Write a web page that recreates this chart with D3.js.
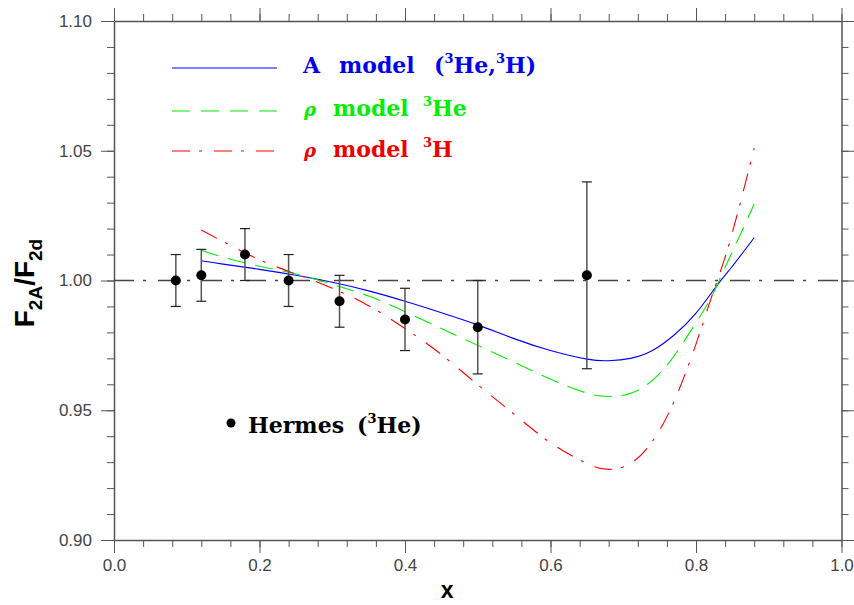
<!DOCTYPE html>
<html>
<head>
<meta charset="utf-8">
<script src="https://cdn.jsdelivr.net/npm/d3@7"></script>
<style>
body { margin: 0; background: #fff; }
text { white-space: pre; }
</style>
</head>
<body>
<svg id="mysvg" width="854" height="605"></svg>
<script>

// Hermes points (3He)
var hermesX = [0.085, 0.12, 0.18, 0.24, 0.31, 0.40, 0.50, 0.65];
var hermesY = [1.000, 1.002, 1.010, 1.000, 0.992, 0.985, 0.982, 1.002];
var hermesErr = [0.010, 0.010, 0.010, 0.010, 0.010, 0.012, 0.018, 0.036];

// A model (3He,3H)
var aX = [0.12, 0.15, 0.20, 0.25, 0.30, 0.35, 0.40, 0.45, 0.50, 0.55, 0.60, 0.65, 0.68, 0.71, 0.74, 0.77, 0.80, 0.83, 0.85, 0.88];
var aY = [1.0076, 1.0063, 1.0043, 1.0020, 0.9993, 0.9960, 0.9920, 0.9876, 0.9829, 0.9776, 0.9730, 0.9697, 0.9691, 0.9700, 0.9730, 0.9790, 0.9874, 0.9985, 1.0055, 1.0165];

// rho model 3He
var rhoHeX = [0.12, 0.15, 0.20, 0.25, 0.30, 0.35, 0.40, 0.45, 0.50, 0.55, 0.60, 0.65, 0.68, 0.71, 0.74, 0.77, 0.80, 0.82, 0.84, 0.86, 0.88];
var rhoHeY = [1.0117, 1.0090, 1.0055, 1.0025, 0.9985, 0.9940, 0.9880, 0.9815, 0.9750, 0.9685, 0.9620, 0.9566, 0.9553, 0.9565, 0.9615, 0.9710, 0.9838, 0.9930, 1.0050, 1.0172, 1.0295];

// rho model 3H
var rhoHX = [0.12, 0.15, 0.20, 0.25, 0.30, 0.35, 0.40, 0.45, 0.50, 0.55, 0.60, 0.65, 0.68, 0.71, 0.74, 0.77, 0.80, 0.82, 0.84, 0.86, 0.88];
var rhoHY = [1.0195, 1.0150, 1.0080, 1.0025, 0.9970, 0.9903, 0.9815, 0.9715, 0.9598, 0.9485, 0.9375, 0.9295, 0.9272, 0.9295, 0.9380, 0.9535, 0.9755, 0.9925, 1.0090, 1.0290, 1.0510];

var xMajor = [0.0, 0.2, 0.4, 0.6, 0.8, 1.0];
var yMajor = [0.90, 0.95, 1.00, 1.05, 1.10];

var svg = d3.select("#mysvg");

var padL = 114, padR = 841.5, padT = 21, padB = 540;

var x = d3.scaleLinear().domain([0, 1]).range([padL, padR]);
var y = d3.scaleLinear().domain([0.90, 1.10]).range([padB, padT]);

var xMinor = d3.range(0, 1.0001, 0.04);
var yMinor = d3.range(0.90, 1.1001, 0.01);

var axisCol = "#555";

// minor ticks on all four sides
function minorAxis (axis, vals, tr) {
	var g = svg.append("g").attr("transform", tr)
		.call(axis.tickValues(vals).tickSize(7).tickFormat(""));
	g.select(".domain").remove();
	g.selectAll("line").attr("stroke", axisCol);
	return g;
}
minorAxis(d3.axisBottom(x), xMinor, "translate(0," + padB + ")");
minorAxis(d3.axisTop(x), xMinor, "translate(0," + padT + ")");
minorAxis(d3.axisLeft(y), yMinor, "translate(" + padL + ",0)");
minorAxis(d3.axisRight(y), yMinor, "translate(" + padR + ",0)");

// major ticks
var gxb = svg.append("g").attr("transform", "translate(0," + padB + ")")
	.call(d3.axisBottom(x).tickValues(xMajor).tickSize(13).tickSizeOuter(0).tickPadding(6).tickFormat(d3.format(".1f")));
var gxt = svg.append("g").attr("transform", "translate(0," + padT + ")")
	.call(d3.axisTop(x).tickValues(xMajor).tickSize(13).tickSizeOuter(0).tickFormat(""));
var gyl = svg.append("g").attr("transform", "translate(" + padL + ",0)")
	.call(d3.axisLeft(y).tickValues(yMajor).tickSize(13).tickSizeOuter(0).tickPadding(9).tickFormat(d3.format(".2f")));
var gyr = svg.append("g").attr("transform", "translate(" + padR + ",0)")
	.call(d3.axisRight(y).tickValues(yMajor).tickSize(13).tickSizeOuter(0).tickFormat(""));

[gxb, gxt, gyl, gyr].forEach(function (g) {
	g.select(".domain").attr("stroke", axisCol).attr("stroke-width", 1.5);
	g.selectAll("line").attr("stroke", axisCol);
	g.selectAll("text")
		.attr("font-family", "Liberation Sans, Arial, sans-serif")
		.attr("font-size", 17)
		.attr("fill", "#444");
});

// reference line at 1
svg.append("line")
	.attr("x1", x(0)).attr("x2", x(1))
	.attr("y1", y(1)).attr("y2", y(1))
	.attr("stroke", "#444")
	.attr("stroke-width", 1.3)
	.attr("stroke-dasharray", "20,9,3,12");

// model curves
var line = d3.line().x(function (d) { return x(d[0]); }).y(function (d) { return y(d[1]); })
	.curve(d3.curveNatural);

var curves = [
	{ xs: aX, ys: aY, col: "#0000ff", dash: null },
	{ xs: rhoHeX, ys: rhoHeY, col: "#00ee00", dash: "18,10" },
	{ xs: rhoHX, ys: rhoHY, col: "#ff0000", dash: "18,9,3,12" }
];

curves.forEach(function (c) {
	var pts = c.xs.map(function (v, i) { return [v, c.ys[i]]; });
	svg.append("path")
		.datum(pts)
		.attr("d", line)
		.attr("fill", "none")
		.attr("stroke", c.col)
		.attr("stroke-width", 1.1)
		.attr("stroke-dasharray", c.dash);
});

// error bars + points
var eb = svg.append("g");
hermesX.forEach(function (v, i) {
	var px = x(v);
	var lo = y(hermesY[i] - hermesErr[i]);
	var hi = y(hermesY[i] + hermesErr[i]);
	eb.append("line").attr("x1", px).attr("x2", px).attr("y1", lo).attr("y2", hi)
		.attr("stroke", "#555").attr("stroke-width", 1.5);
	eb.append("line").attr("x1", px - 5).attr("x2", px + 5).attr("y1", lo).attr("y2", lo)
		.attr("stroke", "#222").attr("stroke-width", 1.2);
	eb.append("line").attr("x1", px - 5).attr("x2", px + 5).attr("y1", hi).attr("y2", hi)
		.attr("stroke", "#222").attr("stroke-width", 1.2);
	eb.append("circle").attr("cx", px).attr("cy", y(hermesY[i])).attr("r", 5).attr("fill", "#000");
});

// legend
var serif = "DejaVu Serif, serif";

function legText (xp, yp, col, parts) {
	var t = svg.append("text")
		.attr("x", xp).attr("y", yp)
		.attr("font-family", serif)
		.attr("font-weight", "bold")
		.attr("font-size", 22)
		.attr("fill", col);
	parts.forEach(function (p) {
		var s = t.append("tspan").text(p.t);
		if (p.sup) s.attr("font-size", 13).attr("baseline-shift", "75%");
		if (p.it) s.attr("font-style", "italic").attr("font-size", 18);
		if (p.x) s.attr("x", p.x);
	});
	return t;
}

svg.append("line").attr("x1", 172).attr("x2", 277).attr("y1", 68).attr("y2", 68)
	.attr("stroke", "#0000ff").attr("stroke-width", 1.1);
svg.append("line").attr("x1", 172).attr("x2", 277).attr("y1", 111).attr("y2", 111)
	.attr("stroke", "#00ee00").attr("stroke-width", 1.1).attr("stroke-dasharray", "18,11");
svg.append("line").attr("x1", 172).attr("x2", 277).attr("y1", 151).attr("y2", 151)
	.attr("stroke", "#ff0000").attr("stroke-width", 1.1).attr("stroke-dasharray", "18,9,3,12");

legText(303, 73, "#0000ee", [
	{ t: "A" }, { t: "model", x: 339 }, { t: "(", x: 434 }, { t: "3", sup: true }, { t: "He," }, { t: "3", sup: true }, { t: "H)" }
]);
legText(304, 116, "#00ee00", [
	{ t: "ρ", it: true }, { t: "model", x: 333 }, { t: "3", sup: true, x: 423 }, { t: "He" }
]);
legText(304, 157, "#ee0000", [
	{ t: "ρ", it: true }, { t: "model", x: 333 }, { t: "3", sup: true, x: 423 }, { t: "H" }
]);

svg.append("circle").attr("cx", 231).attr("cy", 423).attr("r", 4.5).attr("fill", "#000");
legText(248, 433, "#000", [
	{ t: "Hermes" }, { t: "(", x: 357 }, { t: "3", sup: true }, { t: "He)" }
]);

// axis titles
var yl = svg.append("text")
	.attr("transform", "translate(34,283) rotate(-90)")
	.attr("text-anchor", "middle")
	.attr("font-family", "Liberation Sans, Arial, sans-serif")
	.attr("font-weight", "bold")
	.attr("font-size", 28)
	.attr("fill", "#000");
yl.append("tspan").text("F");
yl.append("tspan").text("2A").attr("font-size", 19).attr("dy", 8);
yl.append("tspan").text("/").attr("dy", -8);
yl.append("tspan").text("F");
yl.append("tspan").text("2d").attr("font-size", 19).attr("dy", 8);

svg.append("text")
	.attr("x", x(0.458)).attr("y", 598)
	.attr("text-anchor", "middle")
	.attr("font-family", "Liberation Sans, Arial, sans-serif")
	.attr("font-weight", "bold")
	.attr("font-size", 23)
	.attr("fill", "#000")
	.text("x");

</script>
</body>
</html>
